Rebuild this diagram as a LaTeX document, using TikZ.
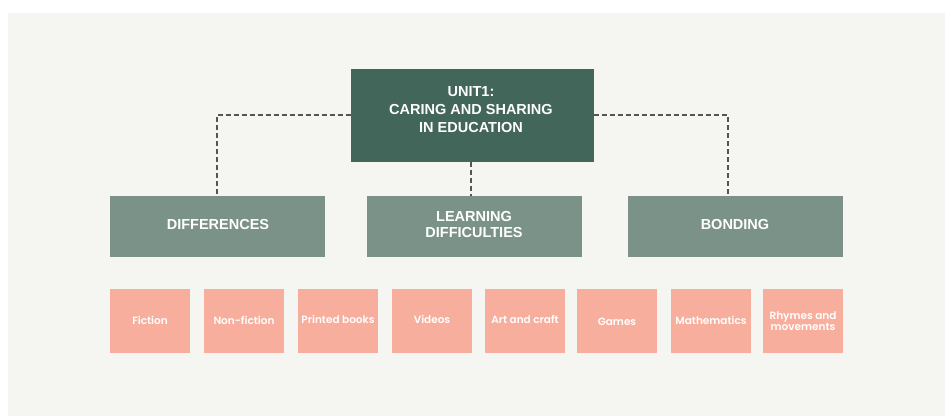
\documentclass[tikz,border=0pt]{standalone}
\usepackage{fontspec}
\setmainfont{Liberation Sans}
\newfontfamily\leaffont{Poppins SemiBold}
\definecolor{bgc}{HTML}{F5F5F1}
\definecolor{dark}{HTML}{42665A}
\definecolor{mid}{HTML}{7A9288}
\definecolor{peach}{HTML}{F8AE9C}
\definecolor{linec}{HTML}{555555}
\begin{document}
\begin{tikzpicture}[x=1pt,y=-1pt,
  topbox/.style={text=white,font=\fontsize{14.5}{18}\selectfont\bfseries,align=center,inner sep=0pt},
  midbox/.style={text=white,font=\fontsize{14.5}{16}\selectfont\bfseries,align=center,inner sep=0pt},
  leaf/.style={text=white,font=\leaffont\fontsize{10.5}{11}\selectfont,align=center,inner sep=0pt},
  conn/.style={draw=linec,line width=1.2pt,dash pattern=on 5pt off 3pt}]
\useasboundingbox (0,0) rectangle (945,416);
\fill[white] (0,0) rectangle (945,416);
\fill[bgc] (8,13) rectangle (945,416);
% main
\fill[dark] (351,69) rectangle (594,162);
\node[topbox] (main) at (471,110) {UNIT1:\\CARING AND SHARING\\IN EDUCATION};
\coordinate (mainW) at (351,115);
\coordinate (mainE) at (594,115);
\coordinate (mainS) at (471,162);
% mid
\fill[mid] (110,196) rectangle (325,257);
\node[midbox] (diff) at (218,225) {DIFFERENCES};
\fill[mid] (367,196) rectangle (582,257);
\node[midbox] (learn) at (474,225) {LEARNING\\DIFFICULTIES};
\fill[mid] (628,196) rectangle (843,257);
\node[midbox] (bond) at (735,225) {BONDING};
\coordinate (diffN) at (217,196);
\coordinate (learnN) at (471,196);
\coordinate (bondN) at (728,196);
\coordinate (cornW) at (217,115);
\coordinate (cornE) at (728,115);
\draw[conn] (mainW) -- (cornW) -- (diffN);
\draw[conn] (mainS) -- (learnN);
\draw[conn] (mainE) -- (cornE) -- (bondN);
% leaves
\foreach \xa/\xb in {110/190,204/284,298/378,392/472,485/565,577/657,671/751,763/843}{
  \fill[peach] (\xa,289) rectangle (\xb,353);
}
\node[leaf] (l1) at (150,320) {Fiction};
\node[leaf] (l2) at (244,320) {Non-fiction};
\node[leaf] (l3) at (338,319) {Printed books};
\node[leaf] (l4) at (432,319) {Videos};
\node[leaf] (l5) at (525,319) {Art and craft};
\node[leaf] (l6) at (617,322) {Games};
\node[leaf] (l7) at (711,320) {Mathematics};
\node[leaf] (l8) at (803,321) {Rhymes and\\movements};
\end{tikzpicture}
\end{document}
